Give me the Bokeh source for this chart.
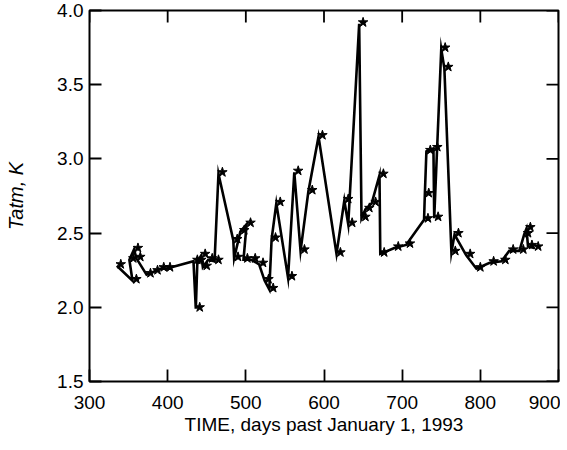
from bokeh.plotting import figure
from bokeh.models import (ColumnDataSource, FixedTicker,
                          PrintfTickFormatter, Range1d)
from bokeh.transform import dodge
from bokeh.embed import file_html
from bokeh.resources import INLINE

# --- data ---
days = [335, 355, 351, 357, 360, 373, 382, 390, 398, 433,
        436, 438, 443, 445, 452, 460, 465, 484, 485, 493,
        501, 497, 507, 517, 524, 530, 533, 539, 554, 562,
        570, 580, 593, 616, 626, 631, 645, 648, 653, 661,
        671, 672, 690, 705, 728, 729, 731, 740, 741, 750,
        754, 763, 767, 782, 795, 812, 827, 837, 850, 856,
        859, 861, 869]
tatm = [2.28, 2.18, 2.32, 2.39, 2.33, 2.22, 2.24, 2.26, 2.26, 2.31,
        1.99, 2.31, 2.35, 2.27, 2.32, 2.31, 2.90, 2.45, 2.33, 2.51,
        2.56, 2.32, 2.32, 2.29, 2.18, 2.12, 2.46, 2.70, 2.20, 2.91,
        2.38, 2.78, 3.15, 2.36, 2.72, 2.56, 3.91, 2.60, 2.66, 2.70,
        2.89, 2.36, 2.40, 2.42, 2.59, 2.76, 3.05, 3.07, 2.60, 3.74,
        3.61, 2.37, 2.49, 2.35, 2.26, 2.30, 2.31, 2.38, 2.38, 2.49,
        2.53, 2.41, 2.40]
x_ticks = [300, 400, 500, 600, 700, 800, 900]
y_ticks = [1.5, 2.0, 2.5, 3.0, 3.5, 4.0]
x_label = "TIME, days past January 1, 1993"
y_label = "Tatm, K"

FONT = "Liberation Sans"
FS = "19px"
X0, X1 = 300, 900
Y0, Y1 = 1.5, 4.0
FRAME_W, FRAME_H = 469, 371
TICK = 12

src = ColumnDataSource(dict(days=days, tatm=tatm))

p = figure(width=560, height=440, output_backend="svg", toolbar_location=None,
           x_range=Range1d(X0, X1), y_range=Range1d(Y0, Y1),
           min_border_left=89, min_border_right=2, min_border_top=10,
           min_border_bottom=59)
p.grid.visible = False
p.outline_line_color = "black"
p.outline_line_width = 2
p.background_fill_color = "white"
p.border_fill_color = "white"

# inward ticks on the top and right edges
dx = TICK * (X1 - X0) / FRAME_W
dy = TICK * (Y1 - Y0) / FRAME_H
p.segment(x0=x_ticks, y0=[Y1] * len(x_ticks), x1=x_ticks,
          y1=[Y1 - dy] * len(x_ticks), line_color="black", line_width=1.8)
p.segment(x0=[X1] * len(y_ticks), y0=y_ticks, x1=[X1 - dx] * len(y_ticks),
          y1=y_ticks, line_color="black", line_width=1.8)

p.line("days", "tatm", source=src, line_color="black", line_width=2.6,
       line_join="miter")
p.scatter(dodge("days", 5, range=p.x_range), dodge("tatm", 0.01, range=p.y_range),
          source=src, marker="star", size=10, fill_color="black",
          line_color="black", line_width=1)

def style(ax):
    ax.axis_line_color = None
    ax.major_tick_in = TICK
    ax.major_tick_out = 0
    ax.minor_tick_in = 0
    ax.minor_tick_out = 0
    ax.major_tick_line_width = 1.8
    ax.major_tick_line_color = "black"
    ax.major_label_text_font = FONT
    ax.major_label_text_font_size = FS
    ax.major_label_text_color = "black"

xa = p.xaxis[0]
xa.ticker = FixedTicker(ticks=x_ticks)
style(xa)
xa.major_label_standoff = 14
xa.axis_label = x_label
xa.axis_label_text_font = FONT
xa.axis_label_text_font_size = FS
xa.axis_label_text_font_style = "normal"
xa.axis_label_text_color = "black"
xa.axis_label_standoff = 2

ya = p.yaxis[0]
ya.ticker = FixedTicker(ticks=y_ticks)
ya.formatter = PrintfTickFormatter(format="%.1f")
style(ya)
ya.major_label_standoff = 6
ya.axis_label = y_label
ya.axis_label_text_font = FONT
ya.axis_label_text_font_size = "20px"
ya.axis_label_text_font_style = "italic"
ya.axis_label_text_color = "black"
ya.axis_label_standoff = 27

open("out.html", "w").write(file_html(p, INLINE))
